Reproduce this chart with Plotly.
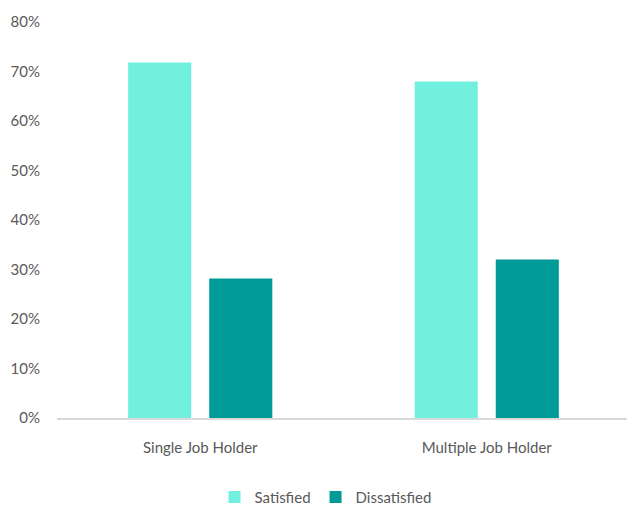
import plotly.graph_objects as go

categories = ["Single Job Holder", "Multiple Job Holder"]
satisfied = [0.718, 0.68]
dissatisfied = [0.282, 0.32]
tick_vals = [0, 0.1, 0.2, 0.3, 0.4, 0.5, 0.6, 0.7, 0.8]

FONT = "Lato, Liberation Sans, Arial, sans-serif"

fig = go.Figure()
fig.add_trace(go.Bar(name="Satisfied", x=categories, y=satisfied,
                     marker=dict(color="#72F0DF", line=dict(width=0))))
fig.add_trace(go.Bar(name="Dissatisfied", x=categories, y=dissatisfied,
                     marker=dict(color="#009A97", line=dict(width=0))))

fig.update_layout(
    width=635, height=508,
    margin=dict(l=49, r=13, t=14, b=98, autoexpand=False),
    paper_bgcolor="white", plot_bgcolor="white",
    barmode="group", bargap=0.434, bargroupgap=0.222,
    font=dict(family=FONT, size=15, color="#595959"),
    showlegend=True,
    legend=dict(orientation="h", x=0.5, xanchor="center", xref="container",
                y=0.037, yanchor="middle", yref="container",
                font=dict(size=15, color="#595959"), itemwidth=30, traceorder="normal"),
    xaxis=dict(showgrid=False, showline=True, linecolor="#D9D9D9", linewidth=1.5,
               ticks="", tickfont=dict(size=15, color="#595959"), ticklabelstandoff=15,
               automargin=False),
    yaxis=dict(range=[0, 0.8], tickvals=tick_vals, tickformat=".0%",
               showgrid=False, zeroline=False, showline=False, ticks="",
               tickfont=dict(size=15, color="#595959"), ticklabelstandoff=16,
               automargin=False),
)

fig.write_html("out.html")
